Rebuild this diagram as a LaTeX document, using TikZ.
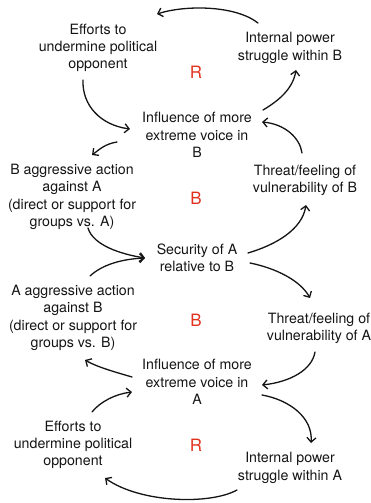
\documentclass[tikz,border=0pt]{standalone}
\usepackage{fontspec}
\setmainfont{TeX Gyre Heros}
\usetikzlibrary{arrows.meta}
\definecolor{ink}{HTML}{141414}
\definecolor{looplbl}{HTML}{E2321E}
\begin{document}
\begin{tikzpicture}[x=1pt,y=1pt,
  var/.style={align=center,inner sep=0pt,text=ink,
    font=\fontsize{14.2}{17.3}\selectfont},
  looptag/.style={inner sep=0pt,text=looplbl,font=\fontsize{17}{17}\selectfont},
  link/.style={draw=ink,line width=1.3pt,line cap=round,
    -{Straight Barb[length=4.5pt,width=9pt,line width=1.3pt]}}]
\useasboundingbox (0,0) rectangle (371,-503);

% variables
\node[var] (effB) at (98,-48)  {Efforts to\\undermine political\\opponent};
\node[var] (powB) at (290,-48) {Internal power\\struggle within B};
\node[var] (infB) at (197,-135) {Influence of more\\extreme voice in\\B};
\node[var] (aggB) at (72,-197) {B aggressive action\\against A\\(direct or support for\\groups vs. A)};
\node[var] (thrB) at (305,-180) {Threat/feeling of\\vulnerability of B};
\node[var] (sec)  at (197,-258) {Security of A\\relative to B};
\node[var] (aggA) at (73,-318) {A aggressive action\\against B\\(direct or support for\\groups vs. B)};
\node[var] (thrA) at (319,-328) {Threat/feeling of\\vulnerability of A};
\node[var] (infA) at (197,-382) {Influence of more\\extreme voice in\\A};
\node[var] (effA) at (73,-445) {Efforts to\\undermine political\\opponent};
\node[var] (powA) at (290,-468) {Internal power\\struggle within A};

% loop labels
\node[looptag] (loopR1) at (196,-72)  {R};
\node[looptag] (loopB1) at (196,-198) {B};
\node[looptag] (loopB2) at (196,-320) {B};
\node[looptag] (loopR2) at (196,-445) {R};

% causal links
\path[link] ([shift={(-32,25)}]powB.center) .. controls +(-23,18) and +(28,9) .. ([shift={(59,34)}]effB.center);
\path[link] ([shift={(-15,-32)}]effB.center) .. controls +(-1,-25) and +(-30,4) .. ([shift={(-67,6)}]infB.center);
\path[link] ([shift={(66,25)}]infB.center) .. controls +(17,10) and +(-3,-18) .. ([shift={(6,-22)}]powB.center);
\path[link] ([shift={(-3,27)}]thrB.center) .. controls +(-2,15) and +(23,-2) .. ([shift={(65,13)}]infB.center);
\path[link] ([shift={(-80,-7)}]infB.center) .. controls +(-12,-2) and +(8,6) .. ([shift={(20,42)}]aggB.center);
\path[link] ([shift={(16,-31)}]aggB.center) .. controls +(5,-17) and +(-25,4) .. ([shift={(-52,0)}]sec.center);
\path[link] ([shift={(17,42)}]aggA.center) .. controls +(13,12) and +(-22,-1) .. ([shift={(-52,0)}]sec.center);
\path[link] ([shift={(51,5)}]sec.center) .. controls +(27,8) and +(-4,-25) .. ([shift={(1,-25)}]thrB.center);
\path[link] ([shift={(53,-5)}]sec.center) .. controls +(25,-5) and +(-10,18) .. ([shift={(-9,30)}]thrA.center);
\path[link] ([shift={(-4,-24)}]thrA.center) .. controls +(-3,-18) and +(28,3) .. ([shift={(65,-3)}]infA.center);
\path[link] ([shift={(-65,5)}]infA.center) .. controls +(-17,5) and +(12,-7) .. ([shift={(12,-42)}]aggA.center);
\path[link] ([shift={(19,33)}]effA.center) .. controls +(8,10) and +(-17,-2) .. ([shift={(-65,-10)}]infA.center);
\path[link] ([shift={(65,-13)}]infA.center) .. controls +(28,-5) and +(2,25) .. ([shift={(21,25)}]powA.center);
\path[link] ([shift={(-53,-22)}]powA.center) .. controls +(-27,-15) and +(35,-25) .. ([shift={(32,-33)}]effA.center);
\end{tikzpicture}
\end{document}
